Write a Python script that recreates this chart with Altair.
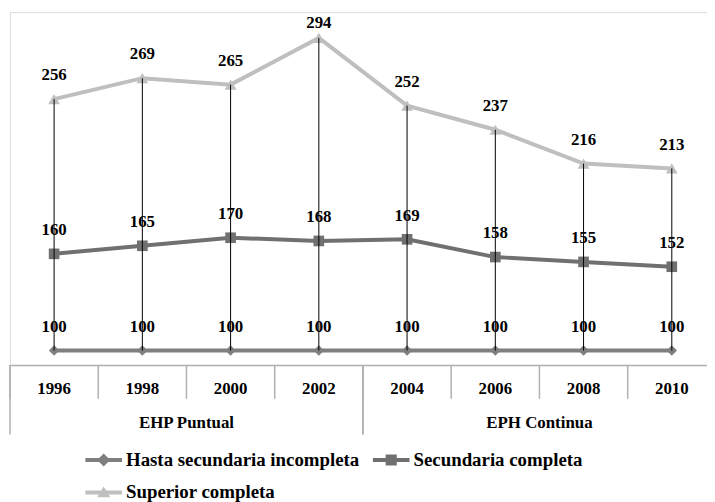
import altair as alt
import pandas as pd

years = ["1996", "1998", "2000", "2002", "2004", "2006", "2008", "2010"]
groups = ["EHP Puntual", "EHP Puntual", "EHP Puntual", "EHP Puntual",
          "EPH Continua", "EPH Continua", "EPH Continua", "EPH Continua"]
series_names = ["Hasta secundaria incompleta", "Secundaria completa", "Superior completa"]
hasta = [100, 100, 100, 100, 100, 100, 100, 100]
secundaria = [160, 165, 170, 168, 169, 158, 155, 152]
superior = [256, 269, 265, 294, 252, 237, 216, 213]

colors = ["#7f7f7f", "#707070", "#bfbfbf"]
marker_shapes = ["diamond", "square", "triangle-up"]
marker_sizes = [110, 115, 140]
legend_paths = [
    "M-1.12,-0.12H1.12V0.12H-1.12Z M0,-0.4L0.4,0L0,0.4L-0.4,0Z",
    "M-1.12,-0.12H1.12V0.12H-1.12Z M-0.34,-0.34H0.34V0.34H-0.34Z",
    "M-1.12,-0.12H1.12V0.12H-1.12Z M0,-0.36L0.4,0.3L-0.4,0.3Z",
]

values = [hasta, secundaria, superior]
rows = []
for name, vals in zip(series_names, values):
    for y, g, v in zip(years, groups, vals):
        rows.append({"year": y, "grupo": g, "serie": name, "valor": v})
long_df = pd.DataFrame(rows)
wide_df = pd.DataFrame({"year": years, "grupo": groups, "top": superior, "bottom": hasta})

grp_rows = []
for g in dict.fromkeys(groups):
    members = [y for y, gg in zip(years, groups) if gg == g]
    grp_rows.append({"grupo": g, "mid": members[len(members) // 2],
                     "start": members[0], "end": members[-1]})
grp_df = pd.DataFrame(grp_rows)

FONT = "Liberation Serif, DejaVu Serif, serif"
GRAY = "#b0b0b0"
PLOT_H = 356
Y_MIN, Y_MAX = 91, 310

xscale = alt.Scale(type="band", domain=years, range=[0, 712], paddingInner=0, paddingOuter=0)
yscale = alt.Scale(domain=[Y_MIN, Y_MAX])
units_per_px = (Y_MAX - Y_MIN) / PLOT_H

def X(field="year", bp=0.5):
    return alt.X(f"{field}:N", scale=xscale, bandPosition=bp, title=None)

Y = lambda f: alt.Y(f"{f}:Q", scale=yscale, axis=None)

base = alt.Chart(long_df)

x_axis = alt.Axis(title=None, labelAngle=0, ticks=False, grid=False,
                  domainColor=GRAY, domainWidth=1.5,
                  labelFont=FONT, labelFontSize=17, labelFontWeight="bold",
                  labelColor="black", labelBaseline="middle", labelPadding=24)

layers = []
layers.append(
    alt.Chart(wide_df).mark_point(opacity=0).encode(
        x=alt.X("year:N", scale=xscale, bandPosition=0.5, title=None, axis=x_axis),
        y=Y("bottom"))
)
for name, col, shp, sz in zip(series_names, colors, marker_shapes, marker_sizes):
    sub = base.transform_filter(alt.datum.serie == name)
    layers.append(sub.mark_line(color=col, strokeWidth=4).encode(x=X(), y=Y("valor")))
    layers.append(sub.mark_point(filled=True, opacity=1, color=col, shape=shp, size=sz)
                  .encode(x=X(), y=Y("valor")))

# value labels: 24px above the point, kept inside the plot area (as Excel does)
lab_off = 24 * units_per_px
lab_max = Y_MAX - 11 * units_per_px
layers.append(
    base.transform_calculate(lab_y=f"min(datum.valor + {lab_off}, {lab_max})")
    .mark_text(font=FONT, fontSize=17, fontWeight="bold", color="black", baseline="middle")
    .encode(x=X(), y=Y("lab_y"), text="valor:Q")
)
layers.append(
    alt.Chart(wide_df).mark_rule(color="black", strokeWidth=1)
    .encode(x=X(), y=Y("top"), y2="bottom:Q")
)
layers.append(
    alt.Chart(wide_df).mark_rule(color=GRAY, strokeWidth=1.5)
    .encode(x=X(bp=0), y=alt.value(PLOT_H), y2=alt.value(PLOT_H + 34))
)
layers.append(
    alt.Chart(grp_df).mark_rule(color=GRAY, strokeWidth=1.5)
    .encode(x=X("start", bp=0), y=alt.value(PLOT_H), y2=alt.value(PLOT_H + 70))
)
layers.append(
    alt.Chart(grp_df).mark_rule(color=GRAY, strokeWidth=1.5)
    .encode(x=X("end", bp=1), y=alt.value(PLOT_H), y2=alt.value(PLOT_H + 70))
)
layers.append(
    alt.Chart(grp_df).mark_text(font=FONT, fontSize=17, fontWeight="bold", color="black",
                                baseline="middle")
    .encode(x=X("mid", bp=0), y=alt.value(PLOT_H + 58), text="grupo:N")
)
leg = alt.Legend(title=None, orient="none", legendX=78, legendY=435, columns=2,
                 direction="horizontal",
                 columnPadding=13, rowPadding=6, padding=0, labelOffset=6,
                 labelFont=FONT, labelFontSize=19, labelFontWeight="bold",
                 labelColor="black", symbolOpacity=1, symbolStrokeWidth=0,
                 symbolSize=1089, labelLimit=400)
layers.append(
    base.mark_point(filled=True, opacity=0).encode(
        x=X(), y=Y("valor"),
        color=alt.Color("serie:N", scale=alt.Scale(domain=series_names, range=colors), legend=leg),
        shape=alt.Shape("serie:N", scale=alt.Scale(domain=series_names, range=legend_paths), legend=leg),
    )
)

chart = alt.layer(*layers).properties(
    width=703, height=PLOT_H,
    autosize="none",
    padding={"left": 2, "top": 2, "right": 0, "bottom": 136},
).configure_view(stroke=None).configure(background="white")

chart.save("out.html", embed_options={"renderer": "svg", "actions": False})
